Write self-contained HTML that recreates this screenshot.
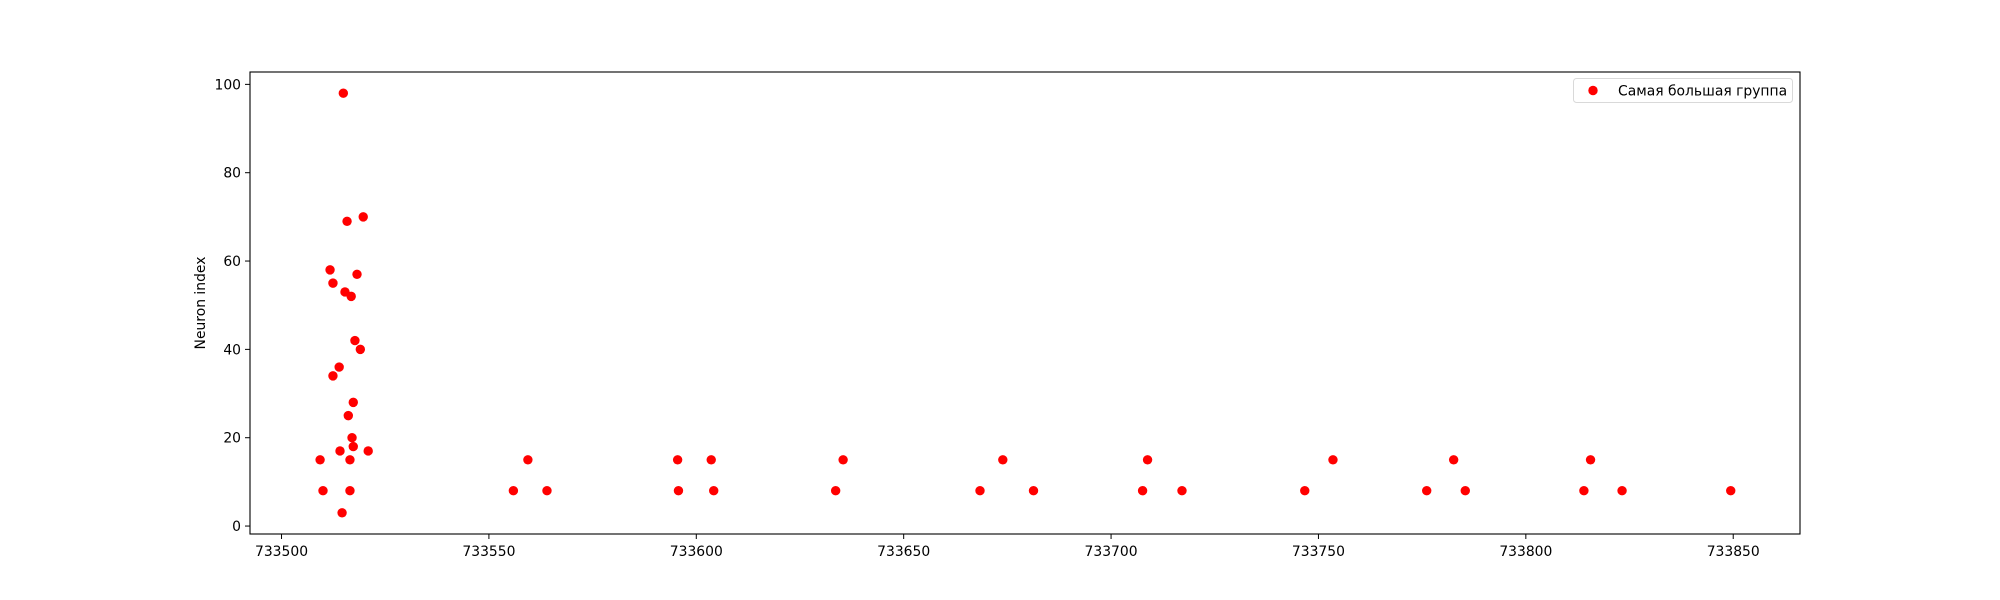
<!DOCTYPE html>
<html><head><meta charset="utf-8"><style>
html,body{margin:0;padding:0;background:#fff;}
svg{display:block;font-family:"DejaVu Sans","Liberation Sans",sans-serif;}
</style></head><body>
<svg id="chart" width="2000" height="600" viewBox="0 0 2000 600" xmlns="http://www.w3.org/2000/svg"></svg>
<script>
const xValues = [733514.9,733515.8,733519.7,733511.7,733512.4,733518.2,733515.3,733516.8,733517.7,733519.0,733513.9,733512.4,733517.3,733516.1,733517.0,733517.3,733514.1,733520.9,733509.3,733516.5,733510.0,733516.5,733514.6,
733559.4,733595.5,733603.6,733635.4,733555.9,733564.0,733595.7,733604.2,733633.6,733668.4,
733673.9,733708.8,733753.5,733782.6,733815.6,733681.3,733707.6,733717.1,733746.7,733776.1,733785.4,733814.0,733823.2,733849.4];
const yValues = [98,69,70,58,55,57,53,52,42,40,36,34,28,25,20,18,17,17,15,15,8,8,3,
15,15,15,15,8,8,8,8,8,8,
15,15,15,15,15,8,8,8,8,8,8,8,8,8];
const xTicks = [733500,733550,733600,733650,733700,733750,733800,733850];
const yTicks = [0,20,40,60,80,100];
const seriesLabel = "Самая большая группа";

const NS="http://www.w3.org/2000/svg";
const svg=document.getElementById('chart');
const L=250,R=1800,T=72,B=534;
const xMin=733492.4,xMax=733866.1,yMin=-1.8,yMax=102.8;
function sx(v){return L+(v-xMin)/(xMax-xMin)*(R-L);}
function sy(v){return B-(v-yMin)/(yMax-yMin)*(B-T);}
function mk(tag,attrs){const e=document.createElementNS(NS,tag);for(const k in attrs)e.setAttribute(k,attrs[k]);return e;}

const pts=mk('g',{});


svg.appendChild(pts);
for(let i=0;i<xValues.length;i++){
  const c=mk('circle',{cx:sx(xValues[i]),cy:sy(yValues[i]),r:4.7,fill:'#ff0000'});
  
  
  pts.appendChild(c);
}
const frame=mk('rect',{x:L,y:T,width:R-L,height:B-T,fill:'none',stroke:'#000','stroke-width':1.1});


svg.appendChild(frame);

xTicks.forEach(t=>{
  const x=sx(t);
  const g=mk('g',{});
  
  
  g.appendChild(mk('line',{x1:x,x2:x,y1:B,y2:B+5,stroke:'#000','stroke-width':1}));
  const tx=mk('text',{x:x,y:B+22,'text-anchor':'middle','font-size':'13.9px',fill:'#000'});
  tx.textContent=t;
  g.appendChild(tx);
  svg.appendChild(g);
});
yTicks.forEach(t=>{
  const y=sy(t);
  const g=mk('g',{});
  
  
  g.appendChild(mk('line',{x1:L-5,x2:L,y1:y,y2:y,stroke:'#000','stroke-width':1}));
  const tx=mk('text',{x:L-9,y:y+5,'text-anchor':'end','font-size':'13.9px',fill:'#000'});
  tx.textContent=t;
  g.appendChild(tx);
  svg.appendChild(g);
});
const yl=mk('text',{x:0,y:0,transform:'translate(205,303) rotate(-90)','text-anchor':'middle','font-size':'13.9px',fill:'#000'});


yl.textContent='Neuron index';
svg.appendChild(yl);

const lg=mk('g',{});


lg.appendChild(mk('rect',{x:1573.5,y:78.5,width:219,height:24,rx:3,fill:'#fff',stroke:'#d9d9d9','stroke-width':1}));
lg.appendChild(mk('circle',{cx:1593,cy:90.5,r:4.7,fill:'#ff0000'}));
const lt=mk('text',{x:1618,y:95.5,'font-size':'13.9px',fill:'#000'});


lt.textContent=seriesLabel;
lg.appendChild(lt);
svg.appendChild(lg);
</script>
</body></html>
